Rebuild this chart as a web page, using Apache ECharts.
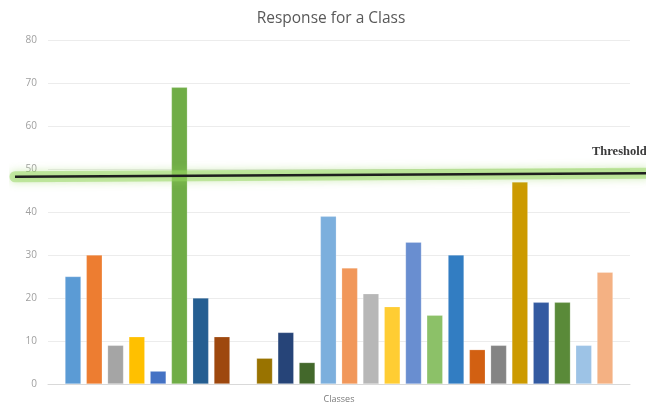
<!DOCTYPE html>
<html>
<head>
<meta charset="utf-8">
<script src="https://cdn.jsdelivr.net/npm/echarts@6/dist/echarts.min.js"></script>
<style>
  html, body { margin: 0; padding: 0; background: #ffffff; }
  #chart { width: 646px; height: 405px; }
</style>
</head>
<body>
<div id="chart"></div>
<script>
// One category holding a cluster of 26 response bars (slot 9 is empty)
const categories = ['Classes'];
const responses = [25, 30, 9, 11, 3, 69, 20, 11, null, 6, 12, 5, 39, 27, 21, 18, 33, 16, 30, 8, 9, 47, 19, 19, 9, 26];
const yTicks = { min: 0, max: 80, step: 10 };
// Threshold line: value at its left and right ends
const thresholdEnds = [48.2, 49.0];
const thresholdText = 'Threshold';

// Office-style palette, one colour per bar
const palette = [
  '#5B9BD5', '#ED7D31', '#A5A5A5', '#FFC000', '#4472C4', '#70AD47', '#255E91', '#9E480E',
  '#636363', '#997300', '#264478', '#43682B', '#7CAFDD', '#F1975A', '#B7B7B7', '#FFCD33',
  '#698ED0', '#8CC168', '#327DC2', '#D26012', '#848484', '#CC9A00', '#335AA1', '#5A8A39',
  '#9DC3E6', '#F4B183'
];

const chart = echarts.init(document.getElementById('chart'), null, { renderer: 'canvas' });

const barSeries = responses.map((v, i) => ({
  type: 'bar',
  name: 'S' + (i + 1),
  xAxisIndex: 0,
  yAxisIndex: 0,
  data: [v === null ? '-' : v],
  barWidth: 16,
  barGap: '33%',
  itemStyle: { color: palette[i], borderColor: 'rgba(255,255,255,0.35)', borderWidth: 0.6 },
  silent: true
}));

const option = {
  animation: false,
  backgroundColor: '#ffffff',
  title: {
    text: 'Response for a Class',
    left: 326,
    top: 6,
    textAlign: 'center',
    textStyle: { fontFamily: 'Open Sans', fontSize: 15.5, fontWeight: 'normal', color: '#595959' }
  },
  grid: [
    { left: 48, right: 16, top: 40, bottom: 21 },
    { left: 15, right: 0, top: 40, bottom: 21 }
  ],
  xAxis: [
    {
      type: 'category',
      gridIndex: 0,
      data: categories,
      axisLine: { lineStyle: { color: '#d9d9d9', width: 1 } },
      axisTick: { show: false },
      axisLabel: { margin: 11, fontFamily: 'Open Sans', fontSize: 9, color: '#7a7a7a' }
    },
    { type: 'value', gridIndex: 1, min: 0, max: 1, show: false }
  ],
  yAxis: [
    {
      type: 'value',
      gridIndex: 0,
      min: yTicks.min,
      max: yTicks.max,
      interval: yTicks.step,
      axisLine: { show: false },
      axisTick: { show: false },
      splitLine: { lineStyle: { color: '#ececec', width: 1 } },
      axisLabel: { margin: 11, fontFamily: 'Open Sans', fontSize: 10, color: '#a0a0a0' }
    },
    { type: 'value', gridIndex: 1, min: yTicks.min, max: yTicks.max, show: false }
  ],
  series: barSeries.concat([
    {
      // soft green glow under the threshold line
      type: 'line',
      xAxisIndex: 1,
      yAxisIndex: 1,
      data: [[0, thresholdEnds[0]], [1, thresholdEnds[1]]],
      symbol: 'none',
      silent: true,
      z: 5,
      lineStyle: {
        color: 'rgba(150,214,96,0.5)',
        width: 11,
        shadowColor: 'rgba(150,214,96,0.85)',
        shadowBlur: 8,
        cap: 'round'
      }
    },
    {
      type: 'line',
      xAxisIndex: 1,
      yAxisIndex: 1,
      data: [[0, thresholdEnds[0]], [1, thresholdEnds[1]]],
      symbol: 'none',
      silent: true,
      z: 6,
      lineStyle: { color: '#1e1e1e', width: 2.5 },
      endLabel: {
        show: true,
        formatter: thresholdText,
        offset: [-62, -22],
        fontFamily: 'Liberation Serif',
        fontSize: 12.5,
        fontWeight: 'bold',
        color: '#3a3a3a'
      }
    }
  ])
};

chart.setOption(option);
</script>
</body>
</html>
